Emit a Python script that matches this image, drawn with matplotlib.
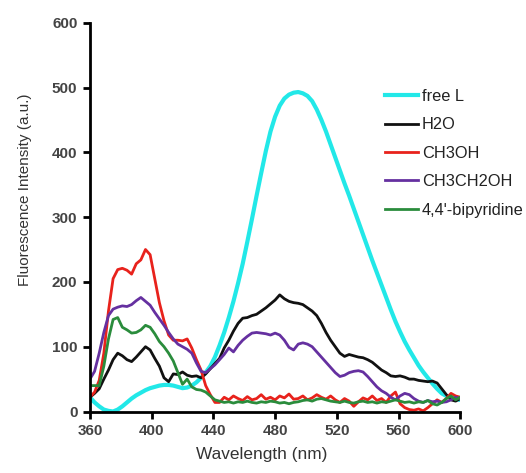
import numpy as np
import matplotlib
matplotlib.use("Agg")
import matplotlib.pyplot as plt

plt.rcParams["font.family"] = ["Liberation Sans", "DejaVu Sans"]

# wavelength grid (nm)
wavelength = np.arange(360, 601, 3)

free_l = [22, 14, 8, 3, 1, 0, 3, 8, 14, 20, 25, 29, 33, 36, 38, 40, 41, 41, 40, 38,
          36, 37, 40, 45, 52, 60, 70, 84, 102, 122, 145, 170, 198, 228, 262, 297, 333, 368, 402, 432,
          455, 472, 483, 489, 492, 493, 491, 487, 479, 466, 450, 432, 412, 392, 372, 352, 333, 313, 293, 273,
          253, 233, 214, 195, 176, 157, 139, 123, 108, 95, 83, 71, 61, 52, 43, 35, 28, 24, 21, 19, 18]

h2o = [22, 28, 35, 50, 64, 80, 90, 86, 80, 77, 84, 92, 100, 95, 82, 70, 52, 46, 58, 57,
       61, 56, 54, 55, 52, 58, 66, 74, 82, 98, 110, 124, 136, 144, 145, 148, 150, 155, 160, 166,
       172, 180, 174, 170, 168, 167, 165, 160, 155, 148, 136, 122, 110, 100, 90, 85, 88, 86, 84, 83,
       80, 76, 70, 64, 60, 55, 54, 55, 53, 50, 50, 48, 47, 46, 47, 44, 35, 26, 18, 16, 20]

ch3oh = [22, 30, 48, 90, 155, 205, 219, 221, 218, 212, 228, 234, 250, 242, 205, 168, 140, 118, 110, 110,
         109, 112, 98, 80, 64, 40, 26, 14, 14, 22, 18, 24, 20, 17, 23, 18, 20, 26, 19, 22,
         18, 24, 21, 27, 19, 20, 24, 18, 21, 26, 22, 19, 24, 18, 14, 20, 16, 8, 15, 21,
         18, 24, 17, 20, 14, 24, 30, 12, 6, 3, 2, 4, 1, 6, 12, 18, 14, 20, 28, 24, 22]

ch3ch2oh = [50, 62, 90, 122, 148, 158, 161, 163, 162, 165, 171, 176, 170, 164, 153, 143, 133, 122, 112, 104,
            100, 96, 90, 75, 62, 60, 66, 72, 80, 88, 98, 92, 102, 110, 116, 121, 122, 121, 120, 118,
            121, 118, 110, 99, 95, 104, 106, 104, 100, 92, 84, 76, 68, 60, 54, 56, 60, 62, 63, 61,
            54, 46, 38, 32, 28, 22, 18, 24, 28, 26, 20, 16, 14, 17, 15, 16, 14, 15, 18, 22, 20]

bipyridine = [40, 40, 40, 70, 112, 142, 145, 130, 126, 121, 122, 126, 133, 130, 120, 108, 100, 90, 78, 60,
              42, 50, 38, 34, 33, 30, 24, 18, 16, 14, 15, 13, 15, 14, 16, 14, 13, 15, 14, 16,
              15, 13, 14, 12, 14, 15, 17, 18, 16, 19, 20, 18, 16, 15, 14, 16, 14, 13, 15, 16,
              14, 15, 13, 15, 14, 16, 18, 16, 14, 15, 13, 15, 14, 17, 12, 10, 14, 20, 24, 18, 22]

series = [
    ("free L", free_l, "#22E8E8", 3.0),
    ("H2O", h2o, "#111111", 2.0),
    ("CH3OH", ch3oh, "#E8221C", 2.0),
    ("CH3CH2OH", ch3ch2oh, "#6530A0", 2.0),
    ("4,4'-bipyridine", bipyridine, "#2A8C3C", 2.0),
]

fig = plt.figure(figsize=(5.26, 4.73), dpi=100)
ax = fig.add_axes([0.171, 0.130, 0.704, 0.822])

for label, values, color, lw in series:
    ax.plot(wavelength, values, color=color, linewidth=lw, label=label)

# axes
ax.set_xlim(360, 600)
ax.set_ylim(0, 600)
ax.set_xticks(np.arange(360, 601, 40))
ax.set_yticks(np.arange(0, 601, 100))
for side in ["top", "right"]:
    ax.spines[side].set_visible(False)
for side in ["left", "bottom"]:
    ax.spines[side].set_linewidth(2)
ax.tick_params(direction="out", length=5, width=2, labelsize=11, labelcolor="#444444", pad=4)
for lab in ax.get_xticklabels() + ax.get_yticklabels():
    lab.set_fontweight("bold")

ax.set_xlabel("Wavelength (nm)", fontsize=12.4, color="#333333")
ax.set_ylabel("Fluorescence Intensity (a.u.)", fontsize=11, color="#333333")
ax.xaxis.set_label_coords(0.465, -0.091)
ax.yaxis.set_label_coords(-0.157, 0.57)

leg = ax.legend(loc="upper left", bbox_to_anchor=(0.797, 0.830), frameon=False,
                fontsize=11.8, handlelength=2.0, handletextpad=0.25, labelspacing=0.82,
                borderpad=0, borderaxespad=0)
for text in leg.get_texts():
    text.set_color("#222222")

fig.savefig("out.png", dpi=100)
